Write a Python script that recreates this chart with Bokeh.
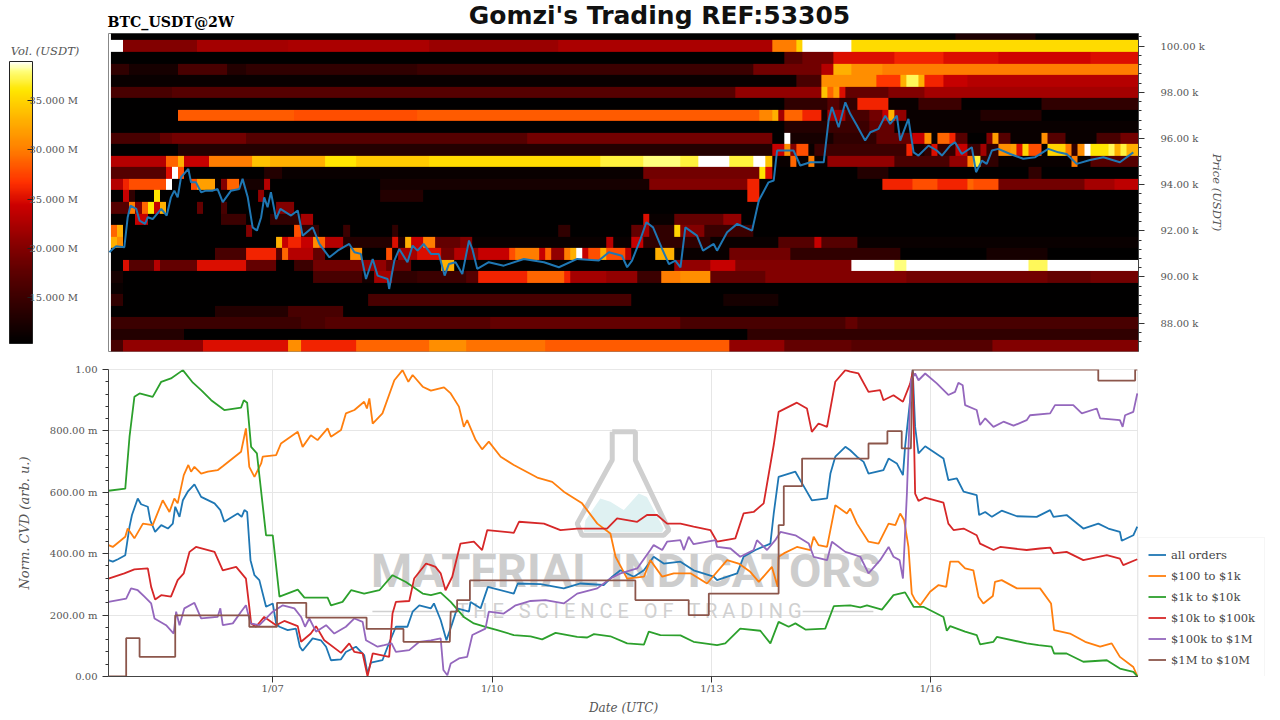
from bokeh.plotting import figure
from bokeh.layouts import column, row
from bokeh.models import (ColorBar, FixedTicker, Legend, LegendItem,
                          LinearColorMapper, Range1d, PrintfTickFormatter)
from bokeh.embed import file_html
from bokeh.resources import INLINE
from bokeh.core.properties import value
import numpy as np

# ---- labels ----
chart_title = "Gomzi's Trading REF:53305"
sub_title = "BTC_USDT@2W"
day_ticks = [53.9, 125.9, 197.9, 269.9]
day_labels = ["1/07", "1/10", "1/13", "1/16"]
series_names = ["all orders", "$100 to $1k", "$1k to $10k", "$10k to $100k", "$100k to $1M", "$1M to $10M"]
series_colors = ["#1f77b4", "#ff7f0e", "#2ca02c", "#d62728", "#9467bd", "#8c564b"]

# ---- heatmap, volume in M USDT: (first 2-hour column, volume) runs for each price row ----
vol_100_5 = [(0,10.5),(138,12.5),(151,10.5)]
vol_100_0 = [(0,39),(2,20),(14,22),(29,22.5),(52,21.5),(73,22.5),(108,30),(112,35),(113,39),(121,35.5)]
vol_99_5 = [(0,10.5),(110,17),(113,19),(118,25),(128,26),(136,25),(145,24.5),(160,25)]
vol_99_0 = [(0,14),(3,12),(11,16),(19,13),(22,14),(50,15),(105,19),(116,23),(118,33),(121,31),(126,30)]
vol_98_5 = [(0,11),(112,16),(116,31),(125,27),(129,33),(130,37.5),(132,33),(133,26),(136,24),(140,23)]
vol_98_0 = [(0,16),(10,17),(102,21),(116,34),(117,29),(118,32),(119,25),(120,18),(127,20),(133,22)]
vol_97_5 = [(0,10.5),(110,14),(117,17),(119,14),(122,26),(127,11),(132,15),(139,10.5),(152,14)]
vol_97_0 = [(0,10.5),(11,28.5),(30,28),(50,28.5),(106,30.5),(108,33),(109,22),(110,29),(113,26),(116,12),(117,22),(120,16),(124,19),(126,24),(127,33),(128,21),(130,11),(142,13),(152,10.5)]
vol_96_5 = [(0,10.5),(110,13),(117,15),(124,18),(128,11)]
vol_96_0 = [(0,16),(8,18),(10,19),(22,17),(68,19),(108,10.5),(110,39),(111,12),(118,14),(125,18),(131,24),(133,31),(134,11),(135,29),(137,26),(138,17),(140,10.5),(143,20),(144,32),(145,17),(147,11),(152,31),(153,17),(156,11),(161,16),(165,19)]
vol_95_5 = [(0,10.5),(11,13),(108,24),(110,31),(111,20),(112,28),(114,11),(115,15),(130,26),(131,12),(133,14),(134,25),(135,14),(138,24),(140,15),(142,22),(143,14),(145,31),(147,32),(148,25),(149,35),(150,28),(152,10.5),(153,35),(156,30),(157,14),(158,31),(159,39),(160,36),(163,37.5),(164,33),(165,37),(166,33)]
vol_95_0 = [(0,23),(9,29),(11,33),(12,24),(16,30),(23,34),(26,33),(35,36),(40,34.5),(52,35.5),(80,37),(87,38),(93,37),(96,39),(101,37),(105,39),(107,34),(108,11),(111,29),(112,11),(114,30),(115,11),(117,21),(128,16),(137,21),(140,30),(141,37),(142,14),(145,11),(157,30),(158,11),(160,17)]
vol_94_5 = [(0,17),(9,25),(10,39),(11,28),(12,10.5),(25,13),(28,11),(87,19),(106,36),(107,25),(108,10.5),(122,13),(127,10.5),(150,14),(152,10.5)]
vol_94_0 = [(0,23),(2,26),(3,28),(9,39),(10,10.5),(13,28),(14,32),(17,11),(18,20),(19,29),(21,12),(25,23),(26,10.5),(44,12),(88,20),(104,26),(106,10.5),(126,26),(131,28),(135,26),(140,29),(141,28),(145,19),(159,22),(164,23.5)]
vol_93_5 = [(0,10.5),(2,24),(3,14),(4,10.5),(7,36),(8,10.5),(24,21),(25,10.5),(44,13),(51,10.5),(104,26),(106,10.5)]
vol_93_0 = [(0,17),(3,30),(4,20),(5,29),(6,36),(7,24),(8,33),(9,10.5),(14,18),(15,10.5),(18,16),(19,10.5),(27,20),(30,10.5)]
vol_92_5 = [(0,10.5),(4,24),(6,10.5),(18,15),(22,10.5),(26,14),(31,22),(33,10.5),(87,25),(88,11),(92,18),(100,21),(103,10.5)]
vol_92_0 = [(0,29),(1,33),(2,10.5),(22,20),(23,10.5),(30,28),(31,14),(34,10.5),(38,15),(39,10.5),(46,14),(47,10.5),(73,14),(75,10.5),(85,18),(87,22),(88,14),(92,35),(93,20),(97,15),(105,10.5)]
vol_91_5 = [(0,33),(1,31),(2,10.5),(27,33),(28,24),(29,26),(31,24),(33,31),(34,29),(35,23),(38,13),(46,25),(47,13),(48,33),(49,24),(51,30),(53,18),(57,20),(59,11),(81,23),(82,11),(85,24),(87,14),(98,11),(109,17),(115,24),(116,17),(122,11)]
vol_91_0 = [(0,10.5),(17,16),(22,26),(27,17),(28,29),(29,23),(33,18),(35,10.5),(39,31),(41,10.5),(45,28),(46,11),(47,22),(50,25),(54,19),(56,23),(58,20),(60,24),(65,28),(66,30),(70,24),(71,29),(72,21),(74,30),(75,33),(76,39),(77,24),(78,28),(80,33),(81,28),(84,23),(85,10.5),(89,33),(92,11),(101,19),(111,14),(129,10.5),(143,12),(153,10.5)]
vol_90_5 = [(0,10.5),(2,25),(3,17),(7,23),(8,18),(14,25),(22,18),(27,10.5),(30,15),(33,19),(41,21),(45,18),(49,10.5),(54,33),(56,10.5),(92,21),(98,24),(102,20),(121,39),(128,38),(130,39),(150,37.5),(153,39)]
vol_90_0 = [(0,12),(2,10.5),(33,16),(41,12),(43,22),(46,14),(50,15),(58,17),(60,26),(68,29),(74,26),(75,22),(81,21),(86,15),(90,30),(93,31),(98,18),(107,20),(130,19),(153,18),(160,19)]
vol_89_5 = [(0,11),(2,10.5)]
vol_89_0 = [(0,14),(2,10.5),(42,16),(85,10.5),(100,12),(109,10.5)]
vol_88_5 = [(0,10.5),(17,13),(29,16),(38,10.5)]
vol_88_0 = [(0,15),(31,16),(35,17),(62,18),(93,16),(120,18),(122,16)]
vol_87_5 = [(0,13),(12,10.5),(104,14)]
vol_87_0 = [(0,16),(2,21),(15,25),(29,31),(31,26),(40,29),(52,31),(58,29.5),(71,28.5),(101,21),(110,18),(121,17),(144,20)]
price_rows = [vol_87_0, vol_87_5, vol_88_0, vol_88_5, vol_89_0, vol_89_5, vol_90_0, vol_90_5, vol_91_0, vol_91_5,
              vol_92_0, vol_92_5, vol_93_0, vol_93_5, vol_94_0, vol_94_5, vol_95_0, vol_95_5, vol_96_0, vol_96_5,
              vol_97_0, vol_97_5, vol_98_0, vol_98_5, vol_99_0, vol_99_5, vol_100_0, vol_100_5]

# ---- price, hours since window start / k USDT ----
price_h = [0.3,1.4,2.5,5.2,6.3,7.2,9.1,10.2,12.0,12.9,14.5,17.3,19.1,20.5,21.6,22.7,23.8,26.2,27.1,28.7,30.4,32.0,34.2,35.8,37.5,40.2,42.9,44.0,45.7,47.3,48.7,50.1,51.1,52.2,53.3,55.0,56.4,59.9,62.1,63.7,67.0,69.2,72.5,75.2,79.0,80.7,82.8,84.5,86.7,88.3,91.6,92.1,93.8,95.4,98.1,99.8,101.4,103.4,105.8,
           108.4,110.3,111.7,113.9,116.1,118.3,119.4,121.0,124.8,129.7,136.3,142.9,147.8,153.8,160.9,164.2,168.5,170.2,171.8,174.6,176.5,178.7,181.7,183.9,186.0,187.7,189.3,193.1,195.1,198.6,199.7,203.0,206.3,211.2,213.4,216.6,218.3,219.4,224.8,227.0,230.3,234.7,236.3,237.4,239.6,241.8,
           243.4,245.6,248.3,250.0,252.7,254.9,256.5,258.7,259.8,262.5,264.2,265.8,269.1,271.8,273.5,276.2,277.8,280.0,283.3,284.7,286.6,288.2,289.9,292.0,295.9,300.2,304.1,308.4,311.7,314.4,317.7,322.1,326.5,331.9,336.3]
price_k = [91.07,91.21,91.33,91.29,92.59,93.09,92.95,92.44,92.30,92.59,92.51,92.95,92.66,93.45,93.74,93.45,94.32,94.68,94.10,94.10,93.67,93.74,93.74,93.81,93.24,93.74,93.81,94.25,93.45,92.15,92.01,92.59,93.45,93.02,93.67,92.51,92.95,92.66,92.88,91.79,92.15,91.43,90.85,91.14,91.43,91.07,91.00,89.91,90.78,90.06,89.91,89.48,90.71,91.21,90.64,91.36,91.14,91.43,91.00,
           91.00,90.06,90.56,90.64,90.13,91.58,91.21,90.35,90.64,90.49,90.78,90.64,90.42,90.78,90.71,91.07,90.92,90.42,90.71,91.65,92.37,92.15,91.21,90.56,90.71,90.42,92.15,91.79,91.14,91.43,91.14,91.94,92.30,92.01,93.31,94.10,94.18,95.48,95.48,94.83,94.97,94.97,96.78,97.36,96.49,97.57,
           97.07,96.56,95.91,96.27,96.42,96.99,96.63,96.99,95.91,96.85,95.40,95.26,95.69,95.48,95.26,95.69,95.84,95.33,95.62,94.54,95.04,94.90,95.48,95.55,95.33,95.12,95.19,95.55,95.40,95.33,94.90,95.07,95.19,94.97,95.40]

# ---- normalised CVD in thousandths ----
all_h = [0,1.4,3.1,5.5,6.9,7.7,9.6,10.7,12.9,13.7,15.3,17.3,19.5,21.1,21.9,23.3,24.4,26.0,28.2,30.4,34.8,36.7,38.0,42.4,43.7,44.6,45.5,46.6,47.9,49.5,51.7,53.9,55.0,56.1,58.8,61.5,62.8,63.7,67.0,69.7,71.4,73.0,76.3,77.9,81.2,83.9,85.0,86.1,89.9,91.6,94.3,98.1,99.8,102.0,105.8,
         106.8,109.0,110.9,112.8,114.4,118.3,118.8,122.1,124.5,133.0,134.3,141.8,149.4,154.9,162.5,165.3,168.0,172.4,175.7,178.9,182.2,187.7,192.0,198.6,199.7,206.3,208.4,212.3,217.2,218.3,219.9,225.4,227.6,230.8,235.8,236.9,238.5,241.8,
         243.4,245.6,247.8,249.4,254.3,256.0,258.7,260.7,261.4,263.3,263.9,264.7,265.8,268.0,274.0,275.6,278.4,280.6,284.9,285.7,287.7,289.9,293.1,298.1,304.6,309.0,310.1,314.4,319.9,324.8,328.1,331.9,332.5,336.3,337.6]
all_v = [379,374,382,395,488,526,580,561,553,509,471,493,482,498,553,520,574,602,626,585,564,542,504,531,520,542,536,379,330,314,227,238,173,162,151,156,97,84,124,118,97,53,56,80,97,70,10,45,53,97,162,162,211,232,222,
         238,184,118,173,222,211,243,222,292,270,303,301,287,303,298,325,346,325,346,390,368,374,346,325,314,336,390,412,433,531,650,667,629,574,580,661,716,748,
         737,716,699,661,672,710,694,656,748,922,998,813,727,750,710,640,645,602,591,526,536,520,540,522,520,542,520,526,482,498,482,471,442,460,488]

o100_h = [0,1.4,5.5,6.3,8.5,11.3,14.5,17.8,20.0,21.6,22.7,24.7,26.2,27.1,28.2,30.4,32.6,35.8,37.5,43.5,45.1,46.2,47.9,50.1,50.6,55.0,56.6,62.1,63.7,66.4,68.6,71.9,73.0,76.3,77.9,80.7,83.9,84.8,85.6,86.7,89.9,93.8,96.5,98.4,99.8,103.1,105.8,
          110.1,112.3,115.0,116.6,117.7,120.5,122.6,124.8,128.7,133.0,140.7,145.6,149.4,155.4,160.4,164.7,166.4,170.2,175.7,177.8,181.7,185.5,191.0,196.4,203.0,206.8,210.6,213.4,217.7,219.6,219.9,221.6,225.9,230.3,231.4,233.0,235.8,238.5,242.3,
          243.4,245.6,249.4,252.7,256.0,258.2,259.8,261.1,262.5,263.6,264.7,266.4,269.6,272.4,274.9,276.2,278.9,281.1,283.8,285.5,287.1,290.2,290.9,293.1,298.1,305.7,309.3,310.3,315.5,320.5,325.4,329.2,331.9,336.3,337.6]
o100_v = [428,422,455,482,450,498,493,574,536,580,564,656,689,667,683,661,667,672,685,732,808,683,650,694,716,721,759,797,748,786,770,808,781,803,857,868,895,873,906,824,857,965,998,960,982,944,931,
          942,922,879,813,835,770,740,765,716,689,648,634,602,564,498,466,390,319,325,379,325,336,336,303,379,368,341,308,357,292,390,401,422,412,455,428,422,558,531,
          547,498,439,433,498,493,531,509,422,270,249,232,276,298,292,374,374,352,346,260,238,262,308,314,287,287,238,151,140,113,97,108,64,31,1]

k1_h = [0,5.5,6.9,8.5,10.2,14.5,17.3,20.5,24.4,27.7,30.4,33.7,38.0,43.5,44.4,45.5,46.8,48.7,51.7,53.9,56.1,62.1,64.3,71.9,73.0,76.8,79.6,83.9,88.9,93.2,97.6,103.1,105.8,
        109.0,112.3,116.6,119.9,123.7,127.6,133.0,138.5,142.3,146.7,153.8,157.1,159.3,164.7,170.2,175.7,177.3,181.1,187.7,192.0,199.7,202.4,207.3,213.9,217.2,219.9,223.2,225.4,228.7,235.2,238.0,243.4,
        246.7,248.9,253.8,257.6,261.4,264.2,267.4,274.0,275.1,276.2,281.1,284.9,286.0,290.4,291.5,301.3,305.2,309.5,310.3,314.4,319.9,327.6,331.9,336.3,337.6]
k1_v = [605,612,781,911,922,911,960,971,998,957,933,900,868,876,900,892,748,727,460,460,260,283,257,257,232,243,281,270,281,330,308,270,265,
        273,243,194,173,162,151,135,131,121,142,129,127,138,131,108,104,146,135,134,113,102,108,156,149,108,178,162,173,153,156,229,232,
        225,232,218,265,274,227,227,194,149,164,146,135,105,113,129,108,102,97,75,75,48,53,26,15,1]

k10_h = [0,5.2,8.5,12.9,14.0,15.3,17.3,20.5,22.7,24.7,26.6,28.7,34.8,37.5,41.9,45.1,46.2,46.8,48.4,51.1,55.0,57.7,62.1,63.2,66.4,68.1,70.8,76.3,79.0,80.7,83.4,85.0,86.7,92.1,93.2,94.3,98.7,100.3,104.2,105.8,
         107.3,109.0,110.6,112.8,115.5,119.9,122.6,124.3,133.0,134.7,142.9,148.3,153.8,157.1,163.6,166.9,173.5,176.7,180.0,183.3,187.7,192.0,197.5,199.7,205.7,208.4,211.7,215.0,218.3,219.9,225.9,229.2,230.8,233.0,235.8,238.5,241.8,
         243.4,246.1,249.4,253.2,254.3,257.6,260.7,263.1,263.9,264.7,265.8,268.0,274.0,275.6,277.3,280.6,284.9,286.0,290.4,292.6,301.3,305.7,309.0,310.1,314.4,319.9,327.6,331.9,333.0,337.6]
k10_v = [319,336,349,352,292,251,265,260,314,336,406,422,406,346,357,319,227,173,162,194,167,181,164,113,140,164,118,77,108,80,75,1,75,64,205,243,246,319,368,363,
         357,336,281,325,433,439,412,477,468,504,498,477,482,482,482,515,504,526,526,498,498,488,477,439,450,531,536,564,754,862,892,873,797,824,813,960,998,
         993,987,927,933,900,916,895,955,993,596,572,583,566,498,477,482,460,433,412,422,412,417,420,401,406,379,395,384,363,382]

k100_h = [0,5.8,7.4,9.6,11.8,14.0,15.1,18.9,21.4,22.2,23.3,24.9,28.2,30.4,35.8,36.7,37.5,40.8,43.5,45.1,46.6,49.5,53.9,57.2,61.0,63.2,64.5,65.9,68.1,71.4,74.1,77.9,80.7,83.4,84.5,88.3,90.5,92.9,94.3,98.7,102.0,105.8,
          109.0,109.9,111.2,112.3,115.0,117.7,119.4,123.7,124.8,129.7,133.6,138.5,143.4,149.4,153.8,160.4,164.7,168.0,173.5,177.8,178.9,181.7,183.3,187.7,188.8,190.4,192.0,199.2,199.7,204.1,207.3,211.7,212.8,216.1,218.8,220.5,225.4,229.8,231.4,235.8,237.4,241.8,
          243.4,246.7,249.4,253.2,256.0,257.6,259.6,260.7,262.0,263.3,264.7,265.8,268.0,271.8,275.6,277.8,278.9,280.3,281.1,284.9,286.0,287.7,290.4,293.7,297.0,301.3,302.4,309.0,310.6,316.6,319.4,324.3,325.4,331.9,332.8,333.6,336.3,337.6]
k100_v = [243,254,287,281,260,238,189,167,140,211,167,222,240,189,194,222,167,173,211,232,173,167,211,232,222,194,162,189,146,167,140,162,189,178,118,97,102,108,80,86,113,118,
          124,21,4,42,59,64,135,156,211,205,232,246,249,238,270,287,319,336,352,412,428,412,439,444,412,455,431,444,422,417,390,412,444,412,444,471,460,433,390,379,439,406,
          401,390,336,379,422,390,379,319,596,965,987,965,987,955,917,927,957,949,884,868,819,841,813,830,817,835,851,857,884,884,857,873,841,835,813,851,862,922]

m1_h = [0,5.8,5.8,10.2,10.2,21.9,21.9,46.2,46.2,55.3,55.3,64.9,64.9,84.7,84.7,96.8,96.8,112.0,112.3,114.4,114.4,118.6,118.6,172.9,172.9,190.4,190.4,197.0,197.0,219.9,219.9,221.6,221.6,227.6,227.6,249.4,249.4,255.6,255.6,260.3,260.3,263.3,263.9,324.8,324.8,336.9,336.9,337.6]
m1_v = [0,0,125,125,64,64,199,199,162,162,240,240,192,192,155,155,113,113,211,211,249,249,313,313,249,249,200,200,270,270,493,493,620,620,710,710,759,759,799,799,743,743,1000,1000,964,964,1000,1000]

# ---- watermark outline ----
flask_h = [165.3,172.9,172.9,183.9,182.2,155.4,153.8,165.3,165.3]
flask_v = [797,797,705,477,460,460,498,705,797]
flask_fill_h = [156.5,161.4,164.7,169.1,174.0,176.7,182.2,181.7,156.0]
flask_fill_v = [509,580,569,542,596,585,482,471,471]
mark_left_h, mark_right_h, mark_v = [86.6, 113.9], [227.8, 251.0], [212, 212]

SERIF = "DejaVu Serif"

# ---- colour map ----
stops = [0, .13, .26, .36, .49, .57, .69, .80, .90, .97, 1]
rgb = np.array([(0,0,0),(48,0,0),(96,0,0),(140,0,0),(204,0,0),(255,48,0),(255,127,0),(255,180,0),(255,230,0),(255,255,128),(255,255,255)], float)
t = np.linspace(0, 1, 256)
palette = ["#%02x%02x%02x" % tuple(int(round(np.interp(s, stops, rgb[:, i]))) for i in range(3)) for s in t]
mapper = LinearColorMapper(palette=palette, low=10.3, high=39.0)

grid = np.zeros((len(price_rows), 168))
for r, runs in enumerate(price_rows):
    for j, (start, vol) in enumerate(runs):
        end = runs[j + 1][0] if j + 1 < len(runs) else 168
        grid[r, start:end] = vol


def bare(fig):
    fig.xaxis.visible = False
    fig.yaxis.visible = False
    fig.xgrid.visible = False
    fig.ygrid.visible = False
    fig.outline_line_color = None
    fig.min_border_left = fig.min_border_right = fig.min_border_top = fig.min_border_bottom = 0


# ---- header ----
p0 = figure(width=1272, height=33, x_range=Range1d(0, 1272), y_range=Range1d(33, 0),
            toolbar_location=None, output_backend="svg")
bare(p0)
p0.text(x=[107], y=[21], text=[sub_title], text_font=value(SERIF), text_font_style="bold",
        text_font_size="14.2px", text_color="black", text_align="left", text_baseline="middle")
p0.text(x=[659], y=[15], text=[chart_title], text_font=value("DejaVu Sans"), text_font_style="bold",
        text_font_size="25px", text_color="#111111", text_align="center", text_baseline="middle")

# ---- colour bar column ----
pc = figure(width=108, height=320, x_range=Range1d(0, 108), y_range=Range1d(320, 0),
            toolbar_location=None, output_backend="svg")
bare(pc)
pc.text(x=[44.5], y=[18], text=["Vol. (USDT)"], text_font=value(SERIF), text_font_style="italic",
        text_font_size="11.5px", text_color="#555555", text_align="center", text_baseline="middle")
cb = ColorBar(color_mapper=mapper, location=(9, 8), width=23, height=282, padding=0,
              ticker=FixedTicker(ticks=[15, 20, 25, 30, 35]),
              major_label_overrides={15: "15.000 M", 20: "20.000 M", 25: "25.000 M", 30: "30.000 M", 35: "35.000 M"},
              major_label_text_font=SERIF, major_label_text_font_size="10px", major_label_text_color="#555555",
              label_standoff=-3, major_tick_line_color="#222222", major_tick_in=5, major_tick_out=0,
              minor_tick_line_color=None, bar_line_color="#222222", border_line_color=None,
              background_fill_color=None)
pc.add_layout(cb)

# ---- heatmap ----
x_range = Range1d(0, 338)
p1 = figure(width=1164, height=320, x_range=x_range, y_range=Range1d(86.77, 100.55),
            toolbar_location=None, output_backend="svg", y_axis_location="right",
            min_border_left=0, min_border_right=134, min_border_top=0, min_border_bottom=2)
p1.xaxis.visible = False
p1.xgrid.visible = False
p1.ygrid.visible = False
p1.outline_line_color = "#888888"

p1.image(image=[grid], x=0.8, y=86.75, dw=337.2, dh=14.0, color_mapper=mapper)
p1.line(price_h, price_k, line_color="#1f77b4", line_width=2)

ax = p1.yaxis[0]
ax.ticker = FixedTicker(ticks=[88, 90, 92, 94, 96, 98, 100],
                        minor_ticks=[87.2, 87.6, 88.4, 88.8, 89.2, 89.6, 90.4, 90.8, 91.2, 91.6, 92.4, 92.8, 93.2, 93.6, 94.4, 94.8, 95.2, 95.6, 96.4, 96.8, 97.2, 97.6, 98.4, 98.8, 99.2, 99.6, 100.4])
ax.formatter = PrintfTickFormatter(format="%.2f k")
ax.axis_label = "Price (USDT)"
ax.axis_label_text_font = SERIF
ax.axis_label_text_font_style = "italic"
ax.axis_label_text_font_size = "11.5px"
ax.axis_label_text_color = "#555555"
ax.axis_label_standoff = 2
ax.major_label_text_font = SERIF
ax.major_label_text_font_size = "10px"
ax.major_label_text_color = "#555555"
ax.major_label_standoff = 16
ax.major_tick_out = 6
ax.major_tick_in = 0
ax.minor_tick_out = 3
ax.minor_tick_in = 0
ax.axis_line_color = "#444444"
ax.major_tick_line_color = "#333333"
ax.minor_tick_line_color = "#333333"

# ---- CVD ----
p2 = figure(width=1138, height=364, x_range=x_range, y_range=Range1d(0, 1000),
            toolbar_location=None, output_backend="svg",
            min_border_left=108, min_border_right=0, min_border_top=16, min_border_bottom=40)
p2.outline_line_color = "#e8e8e8"

p2.patch(flask_fill_h, flask_fill_v, fill_color="#dff1f2", line_color=None)
p2.line(flask_h, flask_v, line_color="#cfcfcf", line_width=5)
p2.text(x=[169.7], y=[345], text=["MATERIAL INDICATORS"], text_font=value("Roboto"), text_font_style="bold",
        text_font_size="47px", text_color="#cdcdcd", text_align="center", text_baseline="middle")
p2.text(x=[171], y=[212], text=["T H E\u00a0\u00a0\u00a0S C I E N C E\u00a0\u00a0\u00a0O F\u00a0\u00a0\u00a0T R A D I N G"],
        text_font=value("Roboto"), text_font_size="20px", text_color="#d0d0d0",
        text_align="center", text_baseline="middle")
p2.line(mark_left_h, mark_v, line_color="#d0d0d0", line_width=1.5)
p2.line(mark_right_h, mark_v, line_color="#d0d0d0", line_width=1.5)

xs = [all_h, o100_h, k1_h, k10_h, k100_h, m1_h]
ys = [all_v, o100_v, k1_v, k10_v, k100_v, m1_v]
for name, col, hx, vy in zip(series_names, series_colors, xs, ys):
    p2.line(hx, vy, line_color=col, line_width=1.8)

xa = p2.xaxis[0]
xa.ticker = FixedTicker(ticks=day_ticks)
xa.major_label_overrides = dict(zip(day_ticks, day_labels))
xa.axis_label = "Date (UTC)"
xa.axis_label_text_font = SERIF
xa.axis_label_text_font_style = "italic"
xa.axis_label_text_font_size = "12px"
xa.axis_label_text_color = "#555555"
xa.axis_label_standoff = 4
xa.major_label_text_font = SERIF
xa.major_label_text_font_size = "10px"
xa.major_label_text_color = "#555555"
xa.major_label_standoff = 0
xa.major_tick_out = 6
xa.major_tick_in = 0
xa.axis_line_color = "#444444"
xa.major_tick_line_color = "#333333"

ya = p2.yaxis[0]
ya.ticker = FixedTicker(ticks=[0, 200, 400, 600, 800, 1000],
                        minor_ticks=[40, 80, 120, 160, 240, 280, 320, 360, 440, 480, 520, 560, 640, 680, 720, 760, 840, 880, 920, 960])
ya.major_label_overrides = {0: "0.00", 200: "200.00 m", 400: "400.00 m", 600: "600.00 m", 800: "800.00 m", 1000: "1.00"}
ya.axis_label = "Norm. CVD (arb. u.)"
ya.axis_label_text_font = SERIF
ya.axis_label_text_font_style = "italic"
ya.axis_label_text_font_size = "13px"
ya.axis_label_text_color = "#555555"
ya.axis_label_standoff = 15
ya.major_label_text_font = SERIF
ya.major_label_text_font_size = "10px"
ya.major_label_text_color = "#555555"
ya.major_tick_out = 6
ya.major_tick_in = 0
ya.minor_tick_out = 3
ya.minor_tick_in = 0
ya.axis_line_color = "#444444"
ya.major_tick_line_color = "#333333"
ya.minor_tick_line_color = "#333333"

p2.xgrid.grid_line_color = "#e6e6e6"
p2.ygrid.grid_line_color = "#e6e6e6"

# ---- legend column ----
pl = figure(width=134, height=364, x_range=Range1d(0, 134), y_range=Range1d(364, 0),
            toolbar_location=None, output_backend="svg")
bare(pl)
items = []
for name, col in zip(series_names, series_colors):
    r = pl.line([-20, -10], [-20, -10], line_color=col, line_width=1.8)
    items.append(LegendItem(label=name, renderers=[r]))
legend = Legend(items=items, location=(0, -1), padding=9, spacing=6, margin=0, glyph_width=18, glyph_height=15,
                label_height=15, label_standoff=5, label_text_font=SERIF, label_text_font_size="11.5px",
                label_text_color="#444444", border_line_color="#eeeeee", background_fill_alpha=1.0)
pl.add_layout(legend)

page = column(row(p0), row(pc, p1, spacing=0), row(p2, pl, spacing=0), spacing=0)
open("out.html", "w").write(file_html(page, INLINE))
